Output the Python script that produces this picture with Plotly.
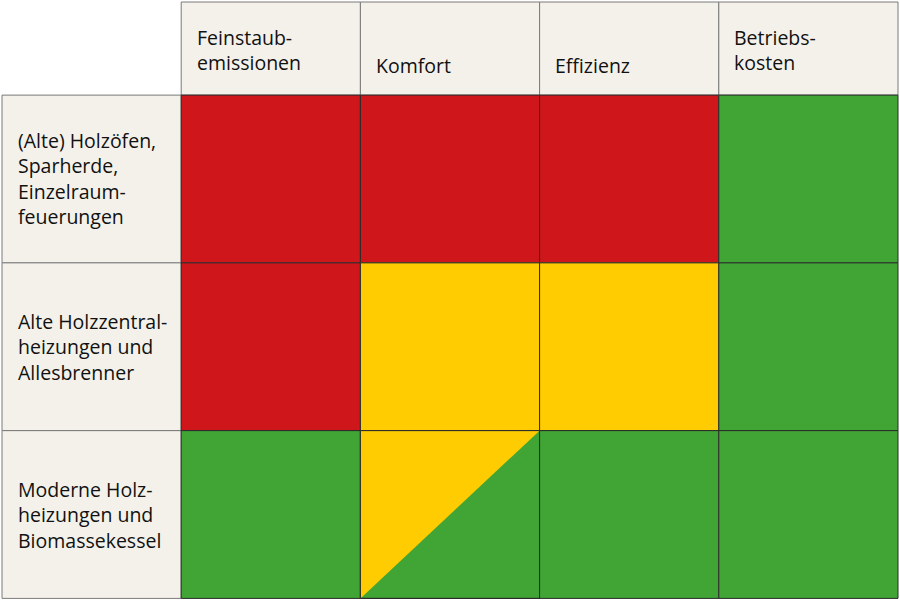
import plotly.graph_objects as go

# table content
columns = ["Feinstaub-<br>emissionen", "Komfort", "Effizienz", "Betriebs-<br>kosten"]
rows = [
    "(Alte) Holzöfen,<br>Sparherde,<br>Einzelraum-<br>feuerungen",
    "Alte Holzzentral-<br>heizungen und<br>Allesbrenner",
    "Moderne Holz-<br>heizungen und<br>Biomassekessel",
]
# rating per cell; "gelb/grün" = split diagonally
ratings = [
    ["rot", "rot", "rot", "grün"],
    ["rot", "gelb", "gelb", "grün"],
    ["grün", "gelb/grün", "grün", "grün"],
]

colors = {"rot": "#cf171b", "gelb": "#fecc00", "grün": "#40a535"}
beige = "#f4f1eb"
header_h = 0.555  # header row height relative to body row height


def cell_poly(x0, x1, y0, y1):
    return [x0, x1, x1, x0, x0], [y0, y0, y1, y1, y0]


fig = go.Figure()


def add_poly(xs, ys, fill, line_color, width=1):
    fig.add_trace(go.Scatter(
        x=xs, y=ys, mode="lines", fill="toself", fillcolor=fill,
        line=dict(color=line_color, width=width),
        hoverinfo="skip", showlegend=False,
    ))


# column header cells
for j, name in enumerate(columns):
    xs, ys = cell_poly(j + 1, j + 2, 0, header_h)
    add_poly(xs, ys, beige, "#7a7a7a")

# row header cells
for i, name in enumerate(rows):
    xs, ys = cell_poly(0, 1, header_h + i, header_h + i + 1)
    add_poly(xs, ys, beige, "#7a7a7a")

# rating cells
for i, row in enumerate(ratings):
    for j, r in enumerate(row):
        x0, x1 = j + 1, j + 2
        y0, y1 = header_h + i, header_h + i + 1
        xs, ys = cell_poly(x0, x1, y0, y1)
        if "/" in r:
            top, bottom = r.split("/")
            add_poly(xs, ys, colors[bottom], "#2b2b2b")
            add_poly([x0, x1, x0, x0], [y0, y0, y1, y0], colors[top], colors[top], 0)
            fig.add_trace(go.Scatter(
                x=xs, y=ys, mode="lines", line=dict(color="#2b2b2b", width=1),
                hoverinfo="skip", showlegend=False,
            ))
        else:
            add_poly(xs, ys, colors[r], "#2b2b2b")

pad = 13.5 / 179.2
font = dict(family="Open Sans", size=19.5, color="#111111")

for j, name in enumerate(columns):
    n_lines = name.count("<br>") + 1
    y = 0.286 if n_lines > 1 else 0.381
    fig.add_annotation(x=j + 1 + pad, y=y, text=name, showarrow=False,
                       xanchor="left", yanchor="middle", align="left", font=font)

for i, name in enumerate(rows):
    fig.add_annotation(x=pad, y=header_h + i + 0.5, text=name, showarrow=False,
                       xanchor="left", yanchor="middle", align="left", font=font)

cw = 179.2
rh = 168.0
fig.update_layout(
    width=900, height=600,
    margin=dict(l=0, r=0, t=0, b=0),
    paper_bgcolor="white", plot_bgcolor="white",
    xaxis=dict(range=[-2 / cw, 5 + 2 / cw], visible=False, fixedrange=True),
    yaxis=dict(range=[header_h + 3 + 1.6 / rh, -2 / rh], visible=False, fixedrange=True),
)

fig.write_html("out.html", config={"displayModeBar": False},
               post_script="document.body.style.margin='0';")
